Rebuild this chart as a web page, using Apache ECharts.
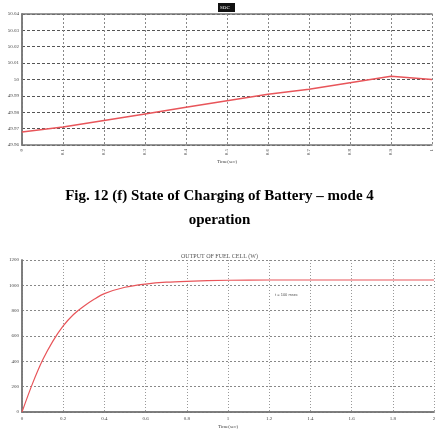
<!DOCTYPE html>
<html>
<head>
<meta charset="utf-8">
<script src="https://cdn.jsdelivr.net/npm/echarts@6/dist/echarts.min.js"></script>
<style>
  html, body { margin: 0; padding: 0; background: #fff; }
  #chart { width: 439px; height: 436px; }
</style>
</head>
<body>
<div id="chart"></div>
<script>
// top: state of charge of battery
const socTime = [0, 0.1, 0.2, 0.3, 0.4, 0.5, 0.6, 0.7, 0.8, 0.9, 1.0]
const socValues = [49.968, 49.971, 49.975, 49.979, 49.983, 49.987, 49.991, 49.994, 49.998, 50.002, 50.0]

// bottom: output of fuel cell
const fcTime = [0, 0.05, 0.1, 0.15, 0.2, 0.25, 0.3, 0.35, 0.4, 0.5, 0.6, 0.7, 0.8, 1.0, 1.2, 1.4, 1.6, 1.8, 2.0]
const fcValues = [0, 220, 410, 560, 680, 770, 835, 890, 935, 985, 1010, 1025, 1032, 1040, 1042, 1042, 1042, 1042, 1042]

const tiny = { fontSize: 5, color: '#444', fontFamily: 'Liberation Serif' }

const chartDOM = document.getElementById('chart')
const chartElement = echarts.init(chartDOM, null, { width: 439, height: 436 })

const axisFrame = { show: true, lineStyle: { color: '#777', width: 1.5 } }

chartElement.setOption({
    animation: false,
    backgroundColor: '#fff',
    grid: [
        { left: 22, top: 14, width: 410, height: 131, containLabel: false, outerBoundsMode: 'none' },
        { left: 22, top: 260, width: 412, height: 152, containLabel: false, outerBoundsMode: 'none' },
    ],
    xAxis: [
        {
            gridIndex: 0, type: 'value', min: 0, max: 1, interval: 0.1,
            axisLine: axisFrame, axisTick: { show: false },
            axisLabel: { ...tiny, rotate: 90, margin: 4, formatter: v => +v.toFixed(1) + '' },
            splitLine: { show: true, lineStyle: { color: '#888', type: [2, 2], width: 1 } },
            name: 'Time(sec)', nameLocation: 'middle', nameGap: 13, nameTextStyle: tiny,
        },
        {
            gridIndex: 0, type: 'value', min: 0, max: 1, position: 'top',
            axisLine: axisFrame, axisTick: { show: false }, axisLabel: { show: false }, splitLine: { show: false },
        },
        {
            gridIndex: 1, type: 'value', min: 0, max: 2, interval: 0.2,
            axisLine: axisFrame, axisTick: { show: false },
            axisLabel: { ...tiny, margin: 4, formatter: v => +v.toFixed(1) + '' },
            splitLine: { show: true, lineStyle: { color: '#999', type: [1, 2], width: 1 } },
            name: 'Time(sec)', nameLocation: 'middle', nameGap: 12, nameTextStyle: tiny,
        },
        {
            gridIndex: 1, type: 'value', min: 0, max: 2, position: 'top',
            axisLine: axisFrame, axisTick: { show: false }, axisLabel: { show: false }, splitLine: { show: false },
        },
    ],
    yAxis: [
        {
            gridIndex: 0, type: 'value', min: 49.96, max: 50.04, interval: 0.01,
            axisLine: axisFrame, axisTick: { show: false },
            axisLabel: { ...tiny, margin: 3, formatter: v => +v.toFixed(2) + '' },
            splitLine: { show: true, lineStyle: { color: '#555', type: [3, 2], width: 1 } },
            name: 'State of Charge (%)', nameLocation: 'middle', nameGap: 14, nameTextStyle: tiny,
        },
        {
            gridIndex: 0, type: 'value', min: 49.96, max: 50.04, position: 'right',
            axisLine: axisFrame, axisTick: { show: false }, axisLabel: { show: false }, splitLine: { show: false },
        },
        {
            gridIndex: 1, type: 'value', min: 0, max: 1200, interval: 200,
            axisLine: axisFrame, axisTick: { show: false },
            axisLabel: { ...tiny, margin: 3, formatter: v => String(v) },
            splitLine: { show: true, lineStyle: { color: '#888', type: [2, 2], width: 1 } },
            name: 'Load Power (Watts)', nameLocation: 'middle', nameGap: 14, nameTextStyle: tiny,
        },
        {
            gridIndex: 1, type: 'value', min: 0, max: 1200, position: 'right',
            axisLine: axisFrame, axisTick: { show: false }, axisLabel: { show: false }, splitLine: { show: false },
        },
    ],
    series: [
        {
            type: 'line', xAxisIndex: 0, yAxisIndex: 0, showSymbol: false,
            data: socTime.map((t, i) => [t, socValues[i]]),
            lineStyle: { color: '#e8555a', width: 1.5 },
        },
        {
            type: 'line', xAxisIndex: 2, yAxisIndex: 2, showSymbol: false, smooth: 0.3,
            data: fcTime.map((t, i) => [t, fcValues[i]]),
            lineStyle: { color: '#e8555a', width: 1.2 },
        },
    ],
    graphic: [
        {
            type: 'rect', left: 218, top: 3, shape: { width: 17, height: 9 },
            style: { fill: '#111' },
        },
        {
            type: 'text', left: 220, top: 5,
            style: { text: 'SOC', fill: '#fff', font: '5px Liberation Serif' },
        },
        {
            type: 'text', left: 'center', top: 189,
            style: { text: 'Fig. 12 (f) State of Charging of Battery \u2013 mode 4', fill: '#000', font: 'bold 15px Liberation Serif' },
        },
        {
            type: 'text', left: 'center', top: 213,
            style: { text: 'operation', fill: '#000', font: 'bold 15px Liberation Serif' },
        },
        {
            type: 'text', left: 'center', top: 253,
            style: { text: 'OUTPUT OF FUEL CELL (W)', fill: '#555', font: '6px Liberation Serif' },
        },
        {
            type: 'text', left: 275, top: 293,
            style: { text: 't = 100 msec', fill: '#555', font: '4px Liberation Sans' },
        },
    ],
})
</script>
</body>
</html>
